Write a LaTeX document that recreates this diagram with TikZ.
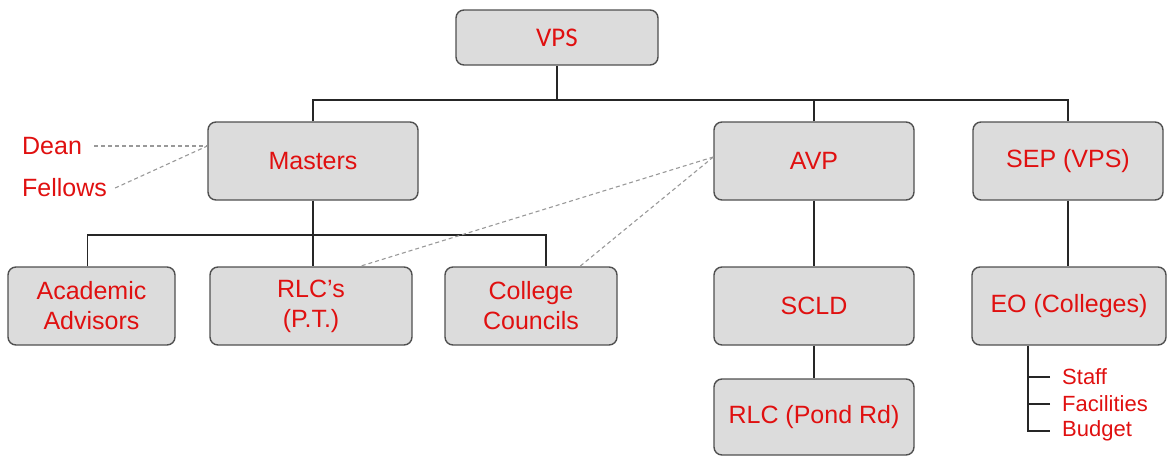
\documentclass[tikz,border=0pt]{standalone}
\usepackage{fontspec}
\setmainfont{Liberation Sans}
\newfontfamily\calib{Carlito}
\definecolor{txtred}{HTML}{E01010}
\definecolor{boxfill}{HTML}{DCDCDC}
\definecolor{boxline}{HTML}{505050}
\begin{document}
\begin{tikzpicture}[x=1pt,y=-1pt,
  box/.style={draw=boxline,fill=boxfill,line width=1.4pt,rounded corners=8pt,
    text=txtred,font=\fontsize{25}{30}\selectfont,align=center,inner sep=0pt},
  conn/.style={draw=black!85,line width=1.1pt},
  dsh/.style={draw=gray!80,line width=1.1pt,dash pattern=on 4pt off 3pt},
  side/.style={text=txtred,font=\fontsize{25}{30}\selectfont,inner sep=0pt},
  small/.style={text=txtred,font=\fontsize{22}{26}\selectfont,inner sep=0pt,anchor=west}]
\useasboundingbox (0,0) rectangle (1167,458);
\node[box,minimum width=202pt,minimum height=55pt,font=\calib\fontsize{27}{30}\selectfont] (vps) at (557,37.5) {VPS};
\node[box,minimum width=210pt,minimum height=78pt] (masters) at (313,161) {Masters};
\node[box,minimum width=200pt,minimum height=78pt] (avp) at (814,161) {AVP};
\node[box,minimum width=190pt,minimum height=78pt] (sep) at (1068,161) {SEP (VPS)};
\node[box,minimum width=167pt,minimum height=78pt] (aa) at (91.5,306) {Academic\\Advisors};
\node[box,minimum width=202pt,minimum height=78pt] (rlcs) at (311,306) {RLC's\\(P.T.)};
\node[box,minimum width=172pt,minimum height=78pt] (cc) at (531,306) {College\\Councils};
\node[box,minimum width=200pt,minimum height=78pt] (scld) at (814,306) {SCLD};
\node[box,minimum width=194pt,minimum height=78pt] (eo) at (1069,306) {EO (Colleges)};
\node[box,minimum width=200pt,minimum height=76pt] (rlcp) at (814,417) {RLC (Pond Rd)};
\node[side,anchor=west] (dean) at (22,146) {Dean};
\node[side,anchor=west] (fellows) at (22,188) {Fellows};
\node[small] (staff) at (1062,377) {Staff};
\node[small] (fac) at (1062,404) {Facilities};
\node[small] (bud) at (1062,431) {Budget};
% tree connectors
\coordinate (b1) at (0,100);
\coordinate (b2) at (0,235);
\draw[conn] (vps.south) -- (vps.south|-b1);
\draw[conn] (masters.north) -- (masters.north|-b1) -- (sep.north|-b1) -- (sep.north);
\draw[conn] (avp.north) -- (avp.north|-b1);
\draw[conn] (masters.south) -- (masters.south|-rlcs.north);
\draw[conn] ([xshift=-4pt]aa.north) -- ([xshift=-4pt]aa.north|-b2) -- ([xshift=15pt]cc.north|-b2) -- ([xshift=15pt]cc.north);
\draw[conn] (avp.south) -- (scld.north);
\draw[conn] (scld.south) -- (rlcp.north);
\draw[conn] (sep.south) -- (sep.south|-eo.north);
\coordinate (lt) at ([xshift=-41pt]eo.south);
\draw[conn] (lt) |- ([xshift=-12pt]bud.west);
\draw[conn] ([xshift=-12pt]staff.west) -- (staff.west-|lt);
\draw[conn] ([xshift=-12pt]fac.west) -- (fac.west-|lt);
% dashed links
\coordinate (mw) at ([yshift=15pt]masters.west);
\coordinate (aw) at ([yshift=4pt]avp.west);
\draw[dsh] ([xshift=12pt]dean.east) -- (mw);
\draw[dsh] ([xshift=8pt]fellows.east) -- (mw);
\draw[dsh] (aw) -- ([xshift=49pt]rlcs.north);
\draw[dsh] (aw) -- ([xshift=49pt]cc.north);
\end{tikzpicture}
\end{document}
